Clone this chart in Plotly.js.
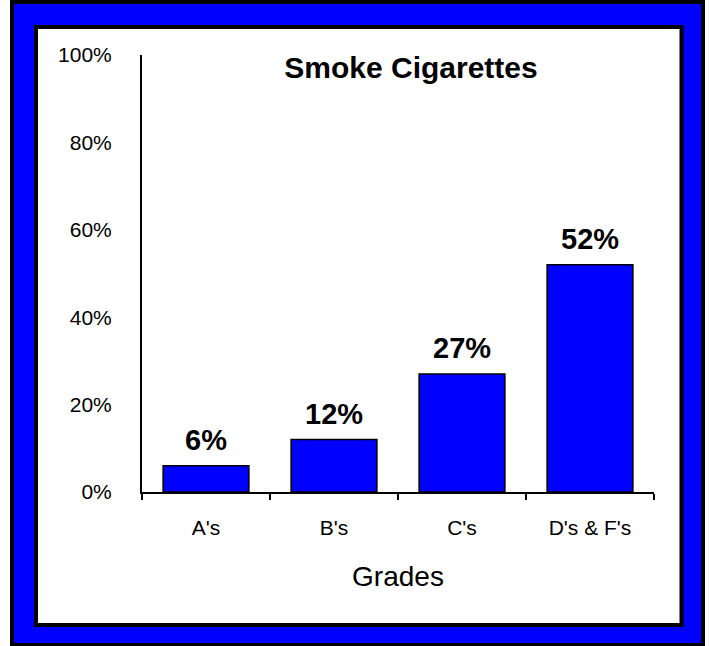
<!DOCTYPE html>
<html><head><meta charset="utf-8">
<script src="https://cdn.plot.ly/plotly-3.0.1.min.js"></script>
<style>html,body{margin:0;padding:0;background:#fff;}#chart{width:709px;height:646px;}</style>
</head><body><div id="chart"></div>
<script>
const categories = ["A's", "B's", "C's", "D's & F's"];
const values = [0.06, 0.12, 0.27, 0.52];
const yTickVals = [0, 0.2, 0.4, 0.6, 0.8, 1.0];
const yTickText = ["0%", "20%", "40%", "60%", "80%", "100%"];

const W = 709, H = 646, L = 142, R = 654, T = 55, B = 492;
const px = x => (x - L) / (R - L);
const py = y => (B - y) / (B - T);
const font = "Arial, 'Liberation Sans', sans-serif";

const trace = {
  type: 'bar', x: categories, y: values,
  marker: {color: 'rgb(0,0,255)', line: {color: '#000', width: 1.5}},
  hoverinfo: 'skip'
};

const annotations = categories.map((c, i) => ({
  x: c, y: values[i], xref: 'x', yref: 'y', yanchor: 'bottom', yshift: 8,
  text: Math.round(values[i] * 100) + '%', showarrow: false,
  font: {family: font, size: 29, color: '#000', weight: 'bold'}
}));

const layout = {
  width: W, height: H,
  margin: {l: L, r: W - R, t: T, b: H - B, pad: 0},
  paper_bgcolor: '#fff', plot_bgcolor: 'rgba(0,0,0,0)',
  showlegend: false,
  bargap: 0.33,
  title: {text: '<b>Smoke Cigarettes</b>', font: {family: font, size: 30, color: '#000'},
          xref: 'paper', x: px(411), xanchor: 'center', yref: 'container', y: 1 - 67 / H, yanchor: 'middle'},
  xaxis: {
    range: [-0.5, 3.5], showline: true, linecolor: '#000', linewidth: 2,
    ticks: 'outside', tickson: 'boundaries', ticklen: 6, tickwidth: 2, tickcolor: '#000',
    tickfont: {family: font, size: 21, color: '#000'}, ticklabelstandoff: 16,
    showgrid: false, zeroline: false, automargin: false,
    title: {text: 'Grades', font: {family: font, size: 28, color: '#000'}, standoff: 28}
  },
  yaxis: {
    range: [0, 1], tickvals: yTickVals, ticktext: yTickText,
    showline: true, linecolor: '#000', linewidth: 2, ticks: '',
    tickfont: {family: font, size: 21, color: '#000'}, ticklabelstandoff: 24,
    showgrid: false, zeroline: false, automargin: false
  },
  annotations: annotations,
  shapes: [
    {type: 'rect', layer: 'below', xref: 'paper', yref: 'paper',
     x0: px(12), x1: px(703), y0: py(2), y1: py(645),
     fillcolor: 'rgb(0,0,255)', line: {color: '#000', width: 4}},
    {type: 'rect', layer: 'below', xref: 'paper', yref: 'paper',
     x0: px(36), x1: px(681.5), y0: py(27), y1: py(625),
     fillcolor: '#fff', line: {color: '#000', width: 4}}
  ]
};

Plotly.newPlot('chart', [trace], layout, {displayModeBar: false, staticPlot: true});
</script></body></html>
